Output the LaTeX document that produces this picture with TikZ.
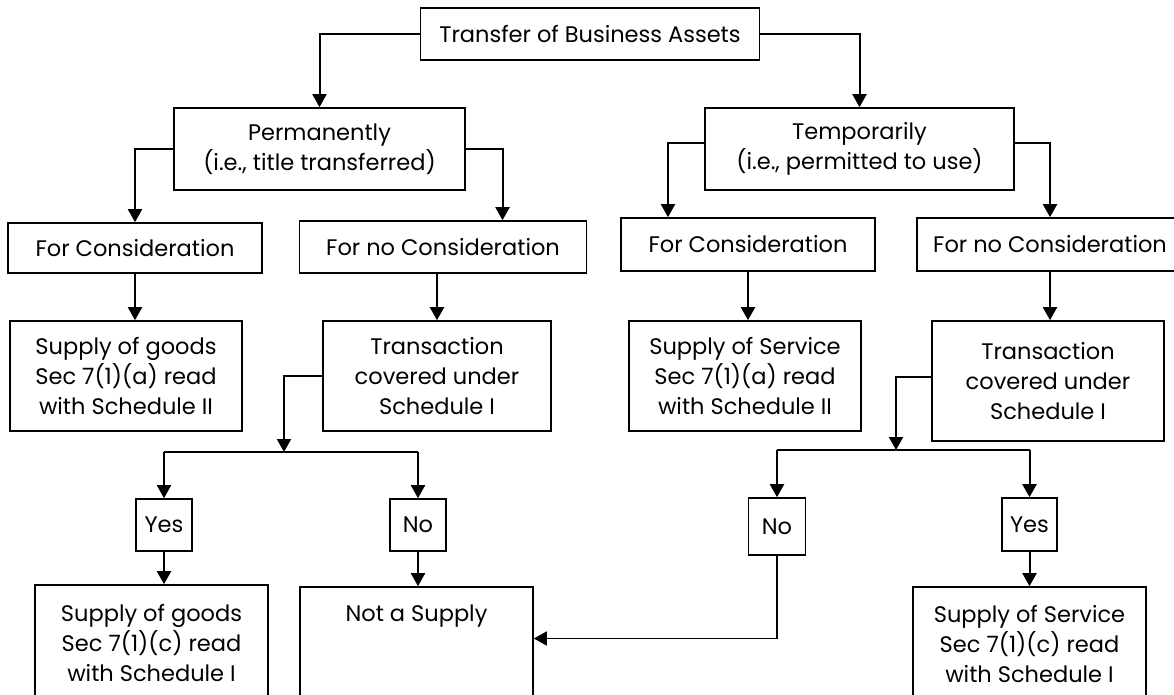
\documentclass[tikz,border=0pt]{standalone}
\usepackage{fontspec}
\setmainfont{Poppins}
\usetikzlibrary{arrows.meta}
\begin{document}
\begin{tikzpicture}[x=1pt,y=-1pt,
  box/.style={draw, line width=1.6pt, align=center, inner sep=0pt, font=\fontsize{22.5}{30}\selectfont},
  ln/.style={line width=2pt},
  arr/.style={line width=2pt, -{Triangle[width=14pt,length=13pt]}}]
  \clip (0,0) rectangle (1174,695);
  \node[box, minimum width=339pt, minimum height=52pt] (top) at (590,34) {Transfer of Business Assets};
  \node[box, minimum width=291pt, minimum height=82pt] (perm) at (319.5,149) {Permanently\\(i.e., title transferred)};
  \node[box, minimum width=309pt, minimum height=82pt] (temp) at (859.5,149) {Temporarily\\(i.e., permitted to use)};
  \node[box, minimum width=254pt, minimum height=50pt] (conL) at (135,248) {For Consideration};
  \node[box, minimum width=287pt, minimum height=52pt] (nconL) at (443,247) {For no Consideration};
  \node[box, minimum width=254pt, minimum height=53pt] (conR) at (748,244.5) {For Consideration};
  \node[box, minimum width=266pt, minimum height=53pt] (nconR) at (1050,244.5) {For no Consideration};
  \node[box, minimum width=232pt, minimum height=110pt] (goodsA) at (126,376) {Supply of goods\\Sec 7(1)(a) read\\with Schedule II};
  \node[box, minimum width=228pt, minimum height=110pt] (transL) at (437,376) {Transaction\\covered under\\Schedule I};
  \node[box, minimum width=232pt, minimum height=110pt] (servA) at (745,376) {Supply of Service\\Sec 7(1)(a) read\\with Schedule II};
  \node[box, minimum width=232pt, minimum height=120pt] (transR) at (1048,381) {Transaction\\covered under\\Schedule I};
  \node[box, minimum width=56pt, minimum height=52pt] (yesL) at (164,525) {Yes};
  \node[box, minimum width=56pt, minimum height=52pt] (noL) at (418,525) {No};
  \node[box, minimum width=57pt, minimum height=57pt] (noR) at (777,526.5) {No};
  \node[box, minimum width=55pt, minimum height=53pt] (yesR) at (1029.5,524.5) {Yes};
  \node[box, minimum width=233pt, minimum height=115pt] (goodsC) at (151.5,642.5) {Supply of goods\\Sec 7(1)(c) read\\with Schedule I};
  \node[box, minimum width=233pt, minimum height=113pt] (notsup) at (416.5,643.5) {Not a Supply\\ \ \\ \ };
  \node[box, minimum width=233pt, minimum height=113pt] (servC) at (1029.5,643.5) {Supply of Service\\Sec 7(1)(c) read\\with Schedule I};
  \coordinate (pr) at (502.5,0);
  \coordinate (tl) at (668,0);
  \coordinate (jL) at (284,452);
  \coordinate (jR) at (896,450);
  % first split
  \draw[arr] (top.west) -| (perm.north);
  \draw[arr] (top.east) -| (temp.north);
  \draw[arr] (perm.west) -| (conL.north);
  \draw[arr] (perm.east) -| (pr |- nconL.north);
  \draw[arr] ([yshift=6pt]temp.west) -| (tl |- conR.north);
  \draw[arr] ([yshift=6pt]temp.east) -| (nconR.north);
  % consideration or not
  \draw[arr] (conL.south) -- (conL.south |- goodsA.north);
  \draw[arr] (transL.north |- nconL.south) -- (transL.north);
  \draw[arr] (conR.south) -- (conR.south |- servA.north);
  \draw[arr] (nconR.south) -- (nconR.south |- transR.north);
  % schedule I, left
  \draw[arr] (transL.west) -| (jL);
  \draw[ln] (yesL.north |- jL) -- (noL.north |- jL);
  \draw[arr] (yesL.north |- jL) -- (yesL.north);
  \draw[arr] (noL.north |- jL) -- (noL.north);
  \draw[arr] (yesL.south) -- (yesL.south |- goodsC.north);
  \draw[arr] (noL.south) -- (noL.south |- notsup.north);
  % schedule I, right
  \draw[arr] ([yshift=4pt]transR.west) -| (jR);
  \draw[ln] (noR.north |- jR) -- (yesR.north |- jR);
  \draw[arr] (noR.north |- jR) -- (noR.north);
  \draw[arr] (yesR.north |- jR) -- (yesR.north);
  \draw[arr] (yesR.south) -- (yesR.south |- servC.north);
  \draw[arr, line width=1.5pt] (noR.south) |- ([yshift=5pt]notsup.east);
\end{tikzpicture}
\end{document}
